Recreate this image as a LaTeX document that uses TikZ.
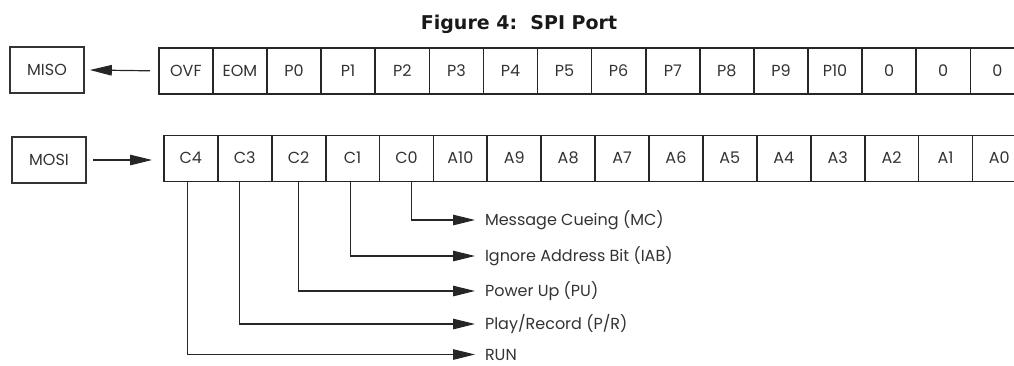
\documentclass[tikz,border=0pt]{standalone}
\usepackage{fontspec}
\setmainfont{Poppins}
\newfontfamily\titlefont{DejaVu Sans}
\usetikzlibrary{arrows.meta,calc}
\begin{document}
\begin{tikzpicture}[x=1pt,y=-1pt,
  txt/.style={font=\fontsize{16}{16}\selectfont, text=black!80, text height=11.3pt, text depth=0pt},
  cell/.style={txt, draw=black!85, line width=1.6pt, minimum width=54.1pt, minimum height=46pt, inner sep=0pt, anchor=north west},
  port/.style={txt, draw=black!80, line width=1.6pt, minimum width=74pt, minimum height=46pt, inner sep=0pt},
  conn/.style={line width=1.2pt, draw=black!85, -{Triangle[length=22pt,width=10.5pt]}},
  lab/.style={txt, anchor=west, inner sep=0pt, outer xsep=10pt}]
\useasboundingbox (0,0) rectangle (1014,365);
\clip (0,0) rectangle (1014,365);
\node[font=\titlefont\bfseries\fontsize{19}{19}\selectfont, anchor=base, text=black!90] (title) at (519,29.3) {Figure 4:\ \ SPI Port};
% MISO row
\foreach \t [count=\i from 0] in {OVF,EOM,P0,P1,P2,P3,P4,P5,P6,P7,P8,P9,P10,0,0,0}
  \node[cell] (m\i) at ({158+54.1*\i},47) {\t};
\node[port] (miso) at (47,70) {MISO};
\draw[conn] ([xshift=-8pt]m0.west) -- ([xshift=5pt]miso.east);
% MOSI row
\foreach \t [count=\i from 0] in {C4,C3,C2,C1,C0,A10,A9,A8,A7,A6,A5,A4,A3,A2,A1,A0}
  \node[cell] (s\i) at ({163+53.9*\i},134.5) {\t};
\node[port] (mosi) at (49,160) {MOSI};
\draw[conn] ([xshift=6pt]mosi.east) -- ([xshift=-11pt]s0.west |- mosi.east);
% labels
\node[lab] (mc)  at (475,220) {Message Cueing (MC)};
\node[lab] (iab) at (475,256) {Ignore Address Bit (IAB)};
\node[lab] (pu)  at (475,291) {Power Up (PU)};
\node[lab] (pr)  at (475,324) {Play/Record (P/R)};
\node[lab] (run) at (475,354.5) {RUN};
\draw[conn] ([xshift=5pt]s4.south) |- (mc.west);
\draw[conn] ([xshift=-2pt]s3.south) |- (iab.west);
\draw[conn] (s2.south) |- (pu.west);
\draw[conn] ([xshift=-5pt]s1.south) |- (pr.west);
\draw[conn] ([xshift=-3pt]s0.south) |- (run.west);
\end{tikzpicture}
\end{document}
